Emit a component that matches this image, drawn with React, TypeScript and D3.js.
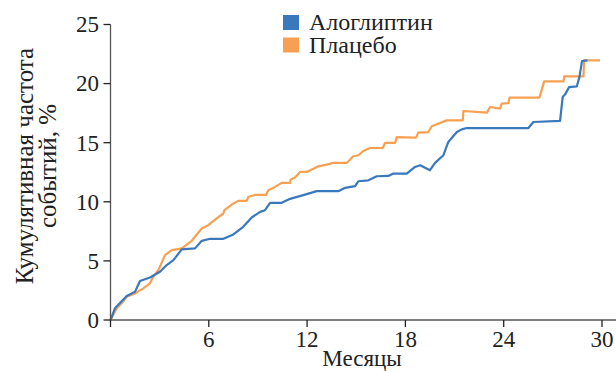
import React from "react";
import * as d3 from "d3";

const xTicks = [6, 12, 18, 24, 30];
const yTicks = [0, 5, 10, 15, 20, 25];
const seriesNames = ["Алоглиптин", "Плацебо"];
const seriesColors = ["#3a78bd", "#f7a052"];

const alogliptinX = [0, 0.27, 0.99, 1.5, 1.8, 2.41, 3.02, 3.43, 3.84, 4.35, 5.16, 5.57, 6.08, 6.89, 7.5, 8.1, 8.62, 9.13, 9.43, 9.74, 10.45, 10.96, 11.77, 12.59, 13.91, 14.32, 14.93, 15.13, 15.74, 16.25, 16.96, 17.27, 18.08, 18.59, 18.9, 19.5, 19.81, 20.32, 20.62, 21.14, 21.44, 21.75, 25.51, 25.81, 27.44, 27.6, 27.75, 27.99, 28.46, 28.62, 28.78, 29.11];
const alogliptinY = [0, 0.99, 2.03, 2.4, 3.3, 3.6, 4.08, 4.65, 5.07, 5.97, 6.06, 6.7, 6.87, 6.87, 7.24, 7.88, 8.67, 9.15, 9.29, 9.91, 9.91, 10.25, 10.56, 10.9, 10.9, 11.18, 11.32, 11.74, 11.82, 12.16, 12.19, 12.39, 12.39, 12.95, 13.09, 12.67, 13.29, 13.94, 15.06, 15.9, 16.13, 16.24, 16.24, 16.75, 16.84, 18.86, 19.09, 19.7, 19.76, 20.55, 21.9, 21.96];

const placeboX = [0, 0.38, 0.68, 0.99, 1.5, 2.0, 2.41, 2.61, 2.92, 3.33, 3.74, 4.35, 4.96, 5.57, 5.97, 6.48, 6.89, 6.95, 7.4, 7.8, 8.31, 8.41, 8.82, 9.49, 9.63, 10.04, 10.45, 10.96, 11.0, 11.26, 11.57, 11.98, 12.69, 13.2, 13.6, 14.42, 14.82, 15.13, 15.43, 15.84, 16.62, 16.76, 17.37, 17.47, 18.65, 18.79, 19.4, 19.61, 20.52, 21.5, 21.54, 22.97, 23.17, 23.78, 23.88, 24.29, 24.35, 26.18, 26.47, 27.65, 27.69, 28.87, 28.91, 29.88];
const placeboY = [0, 0.99, 1.41, 1.97, 2.25, 2.68, 3.1, 3.66, 4.22, 5.49, 5.91, 6.06, 6.7, 7.74, 8.02, 8.59, 9.01, 9.29, 9.77, 10.08, 10.08, 10.41, 10.58, 10.58, 10.98, 11.26, 11.6, 11.6, 11.88, 12.05, 12.53, 12.53, 13.0, 13.15, 13.29, 13.29, 13.85, 13.94, 14.3, 14.55, 14.55, 14.98, 14.98, 15.48, 15.43, 15.85, 15.9, 16.39, 16.89, 16.89, 17.68, 17.54, 18.02, 17.88, 18.3, 18.35, 18.81, 18.81, 20.19, 20.19, 20.61, 20.61, 21.96, 21.96];

const W = 616;
const H = 372;
const FONT = '"Liberation Serif", serif';

export default function App() {
  const x = d3.scaleLinear().domain([0, 30]).range([110.5, 602]);
  const y = d3.scaleLinear().domain([0, 25]).range([320, 24.5]);
  const line = d3
    .line<[number, number]>()
    .x((d) => x(d[0]))
    .y((d) => y(d[1]));
  const blue = alogliptinX.map((v, i) => [v, alogliptinY[i]] as [number, number]);
  const orange = placeboX.map((v, i) => [v, placeboY[i]] as [number, number]);
  const axisColor = "#555";
  const ts = { fontFamily: FONT, fontSize: 23 } as React.CSSProperties;
  const ys = { fontFamily: FONT, fontSize: 25 } as React.CSSProperties;
  const ls = { fontFamily: FONT, fontSize: 24 } as React.CSSProperties;

  return (
    <svg
      width={W}
      height={H}
      style={{ position: "absolute", left: 0, top: 0, background: "#fff" }}
    >
      {/* lines */}
      <path d={line(orange) || ""} fill="none" stroke={seriesColors[1]} strokeWidth={2.2} strokeLinejoin="round" />
      <path d={line(blue) || ""} fill="none" stroke={seriesColors[0]} strokeWidth={2.2} strokeLinejoin="round" />

      {/* axes */}
      <line x1={x(0)} x2={616} y1={y(0)} y2={y(0)} stroke={axisColor} strokeWidth={1.3} />
      <line x1={x(0)} x2={x(0)} y1={y(0)} y2={y(25)} stroke={axisColor} strokeWidth={1.3} />
      <line x1={x(0)} x2={x(0)} y1={y(0)} y2={y(0) + 7} stroke="#222" strokeWidth={1.3} />
      {xTicks.map((t) => (
        <g key={"x" + t}>
          <line x1={x(t)} x2={x(t)} y1={y(0)} y2={y(0) + 7} stroke="#222" strokeWidth={1.3} />
          <text x={x(t)} y={347} textAnchor="middle" style={ts} fill="#222">
            {t}
          </text>
        </g>
      ))}
      {yTicks.map((t) => (
        <g key={"y" + t}>
          <line x1={x(0) - 7} x2={x(0)} y1={y(t)} y2={y(t)} stroke="#222" strokeWidth={1.3} />
          <text x={99} y={y(t)} dy="0.34em" textAnchor="end" style={ts} fill="#222">
            {t}
          </text>
        </g>
      ))}

      {/* axis titles */}
      <text x={362} y={366} textAnchor="middle" style={ts} fill="#222">
        Месяцы
      </text>
      <text transform="translate(33,166) rotate(-90)" textAnchor="middle" style={ys} fill="#222">
        Кумулятивная частота
      </text>
      <text transform="translate(56,166) rotate(-90)" textAnchor="middle" style={ys} fill="#222">
        событий, %
      </text>

      {/* legend */}
      {seriesNames.map((n, i) => (
        <g key={n} transform={`translate(283,${15 + i * 22.5})`}>
          <rect x={0} y={0} width={16} height={15} fill={seriesColors[i]} />
          <text x={26} y={15} style={ls} fill="#222">
            {n}
          </text>
        </g>
      ))}
    </svg>
  );
}
